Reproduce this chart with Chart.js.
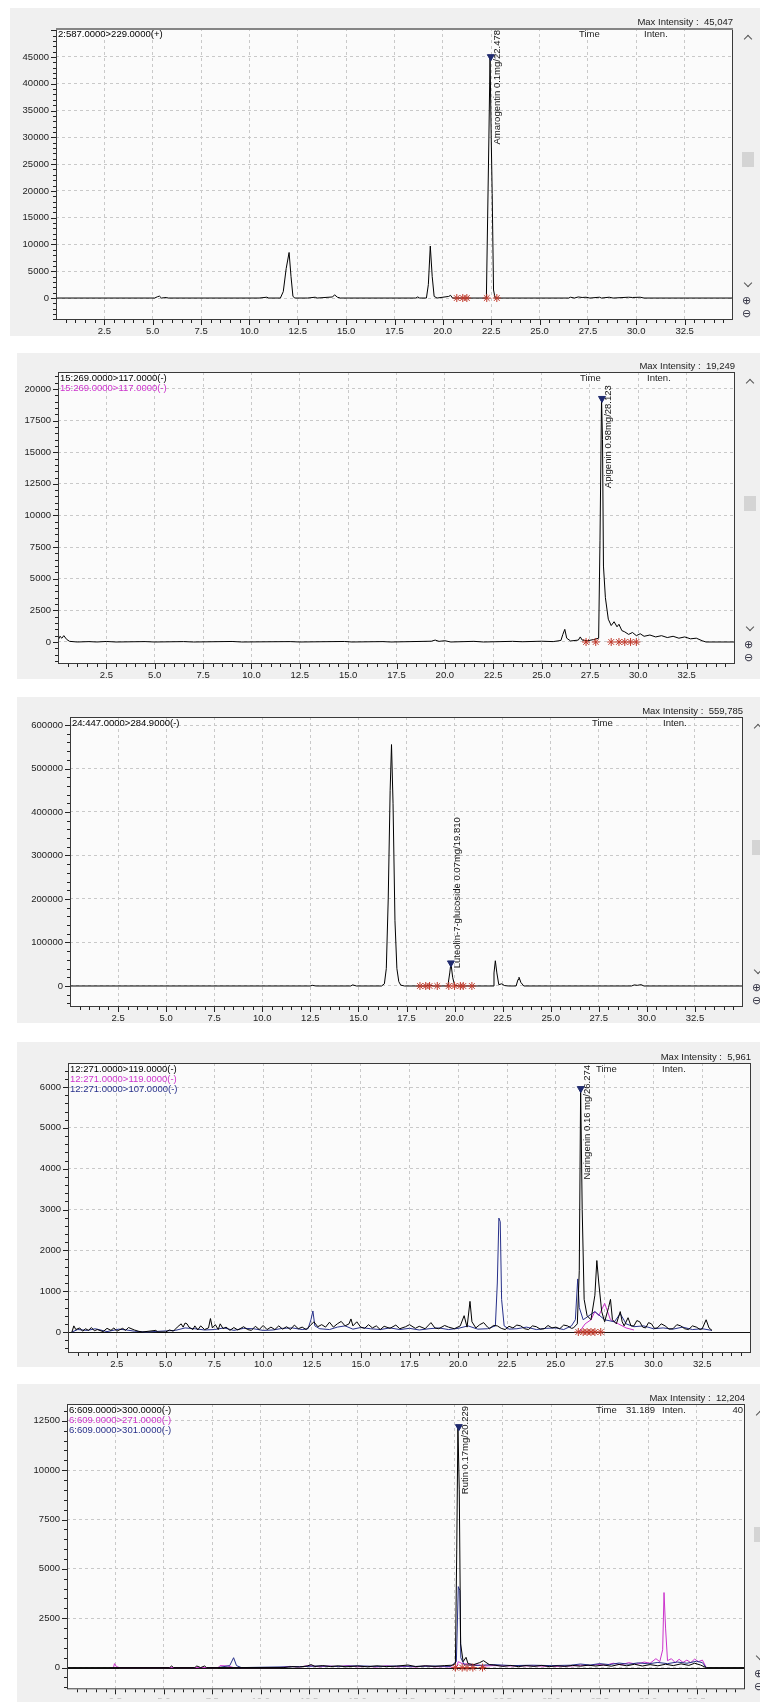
<!DOCTYPE html>
<html>
<head>
<meta charset="utf-8">
<script src="https://cdn.jsdelivr.net/npm/chart.js@4.4.1/dist/chart.umd.min.js"></script>
<style>
  body { margin: 0; background: #fff; width: 760px; height: 1702px; position: relative; overflow: hidden;
         font-family: "Liberation Sans", Arial, sans-serif; }
  .panel { position: absolute; background: #f0f0f0; }
  canvas { position: absolute; left: 0; }
  .t { position: absolute; font-size: 9.5px; line-height: 10px; white-space: pre; color: #111; }
  .chev { position: absolute; width: 5px; height: 5px; border-left: 1.3px solid #555; border-top: 1.3px solid #555; }
  .thumb { position: absolute; width: 12px; height: 15px; background: #d4d4d4; }
  .zoomi { position: absolute; font-size: 11px; line-height: 12px; color: #334; }
</style>
</head>
<body>
<script>
// time axis, shared by every panel
const xTicks = [2.5, 5, 7.5, 10, 12.5, 15, 17.5, 20, 22.5, 25, 27.5, 30, 32.5];

// panel 1: 2:587.0000>229.0000(+)
const p1YTicks = [0, 5000, 10000, 15000, 20000, 25000, 30000, 35000, 40000, 45000];
const p1Legend = ["2:587.0000>229.0000(+)"];
const p1Black = [
  [0, 0], [5.1, 0], [5.25, 250], [5.35, 350], [5.45, 0], [5.7, 100], [5.8, 0], [10.5, 0], [10.9, 150], [11.0, 0],
  [11.6, 0], [11.75, 1200], [11.9, 5500], [12.05, 8500], [12.15, 4000], [12.25, 300], [12.35, 0], [13.0, 0],
  [13.4, 150], [13.5, 0], [14.3, 200], [14.4, 600], [14.55, 150], [14.7, 0], [18.6, 0], [18.7, 200], [18.8, 0],
  [19.15, 0], [19.25, 2500], [19.35, 9700], [19.45, 4000], [19.55, 300], [19.7, 0], [20.3, 300], [20.4, 500],
  [20.5, 0], [22.25, 0], [22.38, 30000], [22.44, 45047], [22.5, 30000], [22.55, 19500], [22.62, 1500], [22.7, 0],
  [26.5, 0], [26.6, 150], [26.8, 0], [27.0, 200], [27.2, 100], [27.4, 150], [27.6, 0], [28.1, 150], [28.2, 0],
  [28.6, 150], [28.8, 0], [29.6, 150], [29.8, 100], [30.2, 150], [30.4, 0], [35, 0]
];
const p1Stars = [20.72, 21.03, 21.24, 22.27, 22.79];
const p1Peak = [22.478, 45047];
const p1Label = "Amarogentin 0.1mg/22.478";

// panel 2: 15:269.0000>117.0000(-)
const p2YTicks = [0, 2500, 5000, 7500, 10000, 12500, 15000, 17500, 20000];
const p2Legend = ["15:269.0000>117.0000(-)", "15:269.0000>117.0000(-)"];
const p2Black = [
  [0, 100], [0.1, 450], [0.2, 300], [0.3, 500], [0.45, 200], [0.6, 50], [1.0, 0], [1.6, 30], [2.0, 0], [2.5, 40],
  [3.0, 0], [4.5, 30], [5.0, 0], [6.5, 30], [7.0, 0], [9.0, 40], [9.5, 0], [12.0, 30], [12.5, 0], [14.8, 40],
  [15.2, 0], [16.8, 30], [17.2, 0], [19.3, 60], [19.5, 150], [19.7, 50], [20.0, 100], [20.3, 0], [21.5, 50],
  [22.0, 0], [23.5, 50], [24.0, 20], [25.0, 60], [25.6, 30], [26.0, 120], [26.1, 600], [26.2, 1000], [26.3, 300],
  [26.5, 80], [26.9, 150], [27.0, 400], [27.1, 150], [27.4, 100], [27.7, 200], [27.95, 300], [28.02, 8000],
  [28.1, 19249], [28.15, 16000], [28.2, 6000], [28.3, 3500], [28.45, 1800], [28.6, 1300], [28.75, 1600],
  [28.9, 1200], [29.0, 1400], [29.15, 900], [29.3, 800], [29.5, 600], [29.7, 750], [29.9, 500], [30.1, 650],
  [30.3, 450], [30.6, 550], [30.9, 400], [31.2, 500], [31.5, 350], [31.8, 450], [32.1, 300], [32.4, 400],
  [32.7, 250], [33.0, 300], [33.3, 100], [33.5, 0], [35, 0]
];
const p2Stars = [27.3, 27.8, 28.6, 29.0, 29.3, 29.6, 29.9];
const p2Peak = [28.123, 19249];
const p2Label = "Apigenin 0.98mg/28.123";

// panel 3: 24:447.0000>284.9000(-)
const p3YTicks = [0, 100000, 200000, 300000, 400000, 500000, 600000];
const p3Legend = ["24:447.0000>284.9000(-)"];
const p3Black = [
  [0, 0], [12.5, 0], [12.6, 1500], [12.8, 0], [14.6, 0], [14.7, 2500], [14.9, 0], [16.2, 0], [16.35, 5000],
  [16.45, 40000], [16.55, 200000], [16.65, 450000], [16.72, 555000], [16.8, 420000], [16.9, 150000],
  [17.0, 40000], [17.1, 10000], [17.2, 2000], [17.4, 0], [18.5, 0], [18.7, 2000], [18.9, 0], [19.65, 0],
  [19.75, 30000], [19.81, 53000], [19.9, 20000], [20.0, 2000], [20.2, 0], [22.0, 0], [22.05, 30000],
  [22.12, 58000], [22.2, 30000], [22.3, 3000], [22.45, 5000], [22.6, 1000], [22.8, 0], [23.2, 0], [23.3, 15000],
  [23.35, 20000], [23.45, 8000], [23.6, 0], [29.2, 0], [29.35, 2500], [29.5, 1500], [29.7, 3000], [29.85, 0], [35, 0]
];
const p3Stars = [18.2, 18.5, 18.7, 19.1, 19.7, 20.0, 20.3, 20.45, 20.9];
const p3Peak = [19.81, 53000];
const p3Label = "Luteolin-7-glucoside 0.07mg/19.810";

// panel 4: 12:271.0000>119 / >119 / >107
const p4YTicks = [0, 1000, 2000, 3000, 4000, 5000, 6000];
const p4Legend = ["12:271.0000>119.0000(-)", "12:271.0000>119.0000(-)", "12:271.0000>107.0000(-)"];
const p4Black = [
  [0.2, 0], [0.3, 150], [0.4, 60], [0.6, 100], [0.75, 20], [0.9, 80], [1.05, 40], [1.2, 110], [1.35, 30],
  [1.5, 60], [1.8, 10], [2.0, 90], [2.2, 40], [2.35, 100], [2.5, 20], [2.8, 90], [2.95, 40], [3.1, 110],
  [3.4, 50], [3.6, 20], [3.8, 0], [4.5, 40], [4.6, 0], [5.0, 0], [5.2, 50], [5.4, 20], [5.6, 120], [5.8, 200],
  [5.9, 120], [6.0, 220], [6.1, 200], [6.2, 120], [6.4, 60], [6.5, 150], [6.65, 50], [6.8, 150], [7.0, 60],
  [7.2, 100], [7.3, 330], [7.4, 100], [7.55, 180], [7.7, 60], [7.8, 200], [7.95, 80], [8.1, 120], [8.3, 40],
  [8.5, 110], [8.7, 50], [9.0, 130], [9.2, 60], [9.4, 40], [9.6, 140], [9.8, 60], [10.0, 160], [10.2, 60],
  [10.4, 120], [10.6, 60], [10.8, 150], [11.0, 70], [11.2, 130], [11.4, 60], [11.6, 170], [11.8, 80], [12.0, 120],
  [12.2, 60], [12.4, 150], [12.6, 250], [12.8, 130], [13.0, 180], [13.2, 120], [13.4, 240], [13.6, 120],
  [13.8, 200], [14.0, 260], [14.2, 150], [14.4, 200], [14.5, 320], [14.6, 150], [14.8, 250], [15.0, 120],
  [15.2, 90], [15.4, 180], [15.6, 100], [15.8, 150], [16.0, 60], [16.2, 140], [16.5, 90], [16.8, 170], [17.0, 80],
  [17.3, 130], [17.5, 180], [17.8, 90], [18.0, 140], [18.3, 80], [18.6, 230], [18.8, 100], [19.0, 80], [19.3, 160],
  [19.5, 120], [19.8, 80], [20.1, 150], [20.3, 400], [20.45, 120], [20.6, 750], [20.7, 250], [20.9, 100],
  [21.1, 180], [21.3, 230], [21.5, 120], [21.6, 80], [21.8, 160], [22.0, 150], [22.2, 90], [22.4, 60],
  [22.6, 140], [22.8, 100], [23.0, 170], [23.2, 150], [23.4, 80], [23.6, 60], [23.8, 150], [24.0, 130],
  [24.2, 70], [24.4, 80], [24.6, 160], [24.8, 100], [25.0, 120], [25.2, 80], [25.4, 170], [25.6, 150],
  [25.8, 90], [25.9, 100], [26.1, 200], [26.2, 1500], [26.27, 5961], [26.35, 3000], [26.45, 800], [26.6, 400],
  [26.8, 300], [27.0, 900], [27.1, 1750], [27.2, 1200], [27.35, 500], [27.5, 250], [27.7, 600], [27.8, 800],
  [27.9, 300], [28.1, 200], [28.3, 500], [28.4, 250], [28.5, 150], [28.7, 350], [28.85, 150], [29.0, 150],
  [29.15, 280], [29.3, 250], [29.45, 120], [29.6, 100], [29.75, 230], [29.9, 200], [30.05, 90], [30.2, 100],
  [30.4, 200], [30.6, 150], [30.8, 70], [31.0, 80], [31.2, 180], [31.4, 150], [31.6, 80], [31.8, 60],
  [32.0, 150], [32.2, 120], [32.4, 60], [32.5, 80], [32.7, 300], [32.85, 100], [33.0, 40]
];
const p4Magenta = [
  [26.2, 0], [26.5, 200], [26.8, 300], [27.0, 500], [27.2, 400], [27.5, 700], [27.8, 300], [28.2, 200],
  [28.6, 100], [29.0, 50]
];
const p4Navy = [
  [0.2, 0], [0.5, 60], [1.0, 40], [1.4, 80], [2.0, 10], [2.6, 70], [3.0, 50], [3.4, 20], [4.0, 0], [5.5, 40],
  [6.0, 100], [6.5, 80], [7.0, 50], [7.5, 60], [8.0, 100], [8.5, 40], [9.0, 90], [9.5, 80], [10.0, 40],
  [10.5, 50], [11.0, 90], [11.5, 100], [12.0, 60], [12.3, 80], [12.45, 300], [12.55, 515], [12.65, 150],
  [12.9, 80], [13.4, 60], [13.8, 120], [14.2, 150], [14.6, 70], [15.0, 110], [15.5, 80], [16.0, 60], [16.5, 100],
  [17.0, 60], [17.5, 90], [18.0, 50], [18.5, 80], [19.0, 100], [19.5, 60], [20.0, 90], [20.5, 150], [21.0, 70],
  [21.5, 80], [21.9, 150], [22.0, 1200], [22.08, 2790], [22.15, 2700], [22.22, 800], [22.35, 150], [22.6, 70],
  [23.0, 80], [23.5, 120], [24.0, 60], [24.5, 90], [25.0, 100], [25.4, 60], [25.8, 150], [26.0, 300],
  [26.12, 1300], [26.2, 600], [26.4, 300], [27.0, 500], [27.5, 300], [28.0, 250], [28.3, 450], [28.6, 200],
  [29.0, 130], [29.5, 150], [30.0, 80], [30.5, 100], [31.0, 70], [31.5, 120], [32.0, 60], [32.5, 80], [33.0, 40]
];
const p4Stars = [26.15, 26.4, 26.6, 26.8, 27.0, 27.3];
const p4Peak = [26.274, 5961];
const p4Label = "Naringenin 0.16 mg/26.274";

// panel 5: 6:609.0000>300 / >271 / >301
const p5YTicks = [0, 2500, 5000, 7500, 10000, 12500];
const p5Legend = ["6:609.0000>300.0000(-)", "6:609.0000>271.0000(-)", "6:609.0000>301.0000(-)"];
const p5Black = [
  [0, 0], [5.3, 0], [5.4, 80], [5.5, 0], [6.6, 0], [6.7, 80], [6.9, 0], [7.1, 80], [7.2, 0], [11.2, 0],
  [11.6, 50], [12.0, 30], [12.4, 80], [12.6, 150], [12.8, 60], [13.2, 100], [13.6, 50], [14.0, 90], [14.4, 40],
  [15.0, 80], [15.5, 40], [16.0, 90], [16.5, 50], [17.0, 70], [17.6, 130], [18.0, 50], [18.5, 90], [19.0, 60],
  [19.5, 100], [19.9, 120], [20.05, 200], [20.12, 6000], [20.18, 12204], [20.25, 9000], [20.32, 1200],
  [20.45, 300], [20.6, 520], [20.7, 200], [21.0, 150], [21.3, 250], [21.5, 350], [21.8, 150], [22.1, 120],
  [22.5, 60], [22.9, 110], [23.3, 50], [23.7, 100], [24.1, 60], [24.5, 110], [24.9, 50], [25.3, 90], [25.7, 60],
  [26.1, 110], [26.5, 70], [26.9, 120], [27.3, 80], [27.7, 130], [28.1, 70], [28.5, 160], [28.9, 90],
  [29.3, 170], [29.7, 80], [30.1, 150], [30.5, 90], [30.9, 170], [31.3, 100], [31.7, 190], [32.1, 110],
  [32.4, 220], [32.7, 130], [33.0, 0], [35, 0]
];
const p5Magenta = [
  [2.4, 0], [2.45, 200], [2.55, 50], [2.7, 0], [7.8, 0], [7.9, 100], [8.3, 80], [8.6, 0], [11.0, 0], [11.5, 60],
  [12.0, 30], [12.5, 100], [13.0, 40], [13.5, 80], [14.0, 50], [14.5, 100], [15.0, 40], [15.5, 60], [16.0, 30],
  [16.5, 90], [17.0, 40], [17.5, 60], [18.0, 30], [18.5, 80], [19.0, 40], [19.5, 50], [20.1, 0], [20.2, 300],
  [20.4, 200], [21.0, 150], [21.5, 80], [22.0, 100], [23.0, 80], [24.0, 90], [25.0, 60], [26.0, 80], [26.5, 120],
  [27.0, 100], [27.4, 160], [27.8, 120], [28.2, 220], [28.6, 140], [29.0, 250], [29.4, 170], [29.8, 280],
  [30.1, 220], [30.4, 450], [30.6, 300], [30.75, 900], [30.82, 3800], [30.9, 2000], [31.0, 350], [31.2, 450],
  [31.4, 250], [31.6, 420], [31.8, 260], [32.0, 380], [32.2, 250], [32.4, 430], [32.6, 300], [32.8, 380],
  [32.95, 100], [33.0, 0]
];
const p5Navy = [
  [7.8, 0], [8.4, 100], [8.6, 500], [8.75, 100], [9.0, 0], [12.0, 50], [13.0, 80], [14.0, 60], [15.0, 90],
  [16.0, 60], [17.0, 80], [18.0, 60], [19.0, 80], [19.8, 60], [20.1, 300], [20.2, 4100], [20.28, 3900],
  [20.33, 500], [20.5, 150], [21.0, 100], [22.0, 150], [23.0, 100], [24.0, 120], [25.0, 100], [26.0, 120],
  [26.5, 180], [27.0, 130], [27.5, 200], [28.0, 150], [28.5, 230], [29.0, 170], [29.5, 240], [30.0, 190],
  [30.5, 260], [31.0, 200], [31.5, 280], [32.0, 220], [32.5, 320], [32.8, 250], [33.0, 0]
];
const p5Stars = [20.05, 20.4, 20.65, 20.95, 21.45];
const p5Peak = [20.229, 12204];
const p5Label = "Rutin 0.17mg/20.229";

const BLACK = "#000000", MAGENTA = "#cc33cc", NAVY = "#27308a", RED = "#c0392b";

Chart.defaults.font.family = '"Liberation Sans", Arial, sans-serif';
Chart.defaults.font.size = 9.5;
Chart.defaults.color = "#222";

// plot background, frame, tick marks, zero line and the rotated peak label
const chromFrame = {
  id: "chromFrame",
  beforeDraw(chart) {
    const { ctx, chartArea: a } = chart;
    ctx.save();
    ctx.fillStyle = "#fbfbfb";
    ctx.fillRect(a.left, a.top, a.right - a.left, a.bottom - a.top);
    ctx.restore();
  },
  beforeDatasetsDraw(chart, args, opts) {
    if (!opts.zeroLine) return;
    const { ctx, chartArea: a, scales: { y } } = chart;
    const py = Math.round(y.getPixelForValue(0)) + 0.5;
    ctx.save();
    ctx.strokeStyle = "#111";
    ctx.lineWidth = 1;
    ctx.beginPath();
    ctx.moveTo(a.left, py);
    ctx.lineTo(a.right, py);
    ctx.stroke();
    ctx.restore();
  },
  afterDraw(chart, args, opts) {
    const { ctx, chartArea: a, scales: { x, y } } = chart;
    ctx.save();
    ctx.strokeStyle = "#222";
    ctx.lineWidth = 1;
    ctx.beginPath();
    for (let v = 0.5; v < x.max; v += 0.5) {
      const major = Math.abs(v / 2.5 - Math.round(v / 2.5)) < 1e-6;
      const px = Math.round(x.getPixelForValue(v)) + 0.5;
      ctx.moveTo(px, a.bottom);
      ctx.lineTo(px, a.bottom + (major ? 5 : 3));
    }
    for (let v = Math.ceil(y.min / opts.minor) * opts.minor; v <= y.max; v += opts.minor) {
      const major = v % opts.major === 0;
      const py = Math.round(y.getPixelForValue(v)) + 0.5;
      ctx.moveTo(a.left, py);
      ctx.lineTo(a.left - (major ? 5 : 3), py);
    }
    ctx.stroke();
    ctx.strokeStyle = "#3a3a3a";
    ctx.strokeRect(a.left + 0.5, a.top + 0.5, a.right - a.left - 1, a.bottom - a.top - 1);
    if (opts.activeTop) {
      // the selected panel has a heavier grey top edge
      ctx.strokeStyle = "#858585";
      ctx.lineWidth = 2;
      ctx.beginPath();
      ctx.moveTo(a.left, a.top + 1);
      ctx.lineTo(a.right, a.top + 1);
      ctx.stroke();
    }

    const lx = x.getPixelForValue(opts.labelAt) + 2;
    const ly = Math.max(a.top + 2, y.getPixelForValue(opts.labelTop));
    ctx.translate(lx, ly);
    ctx.rotate(-Math.PI / 2);
    ctx.font = '9.5px "Liberation Sans", Arial, sans-serif';
    ctx.fillStyle = "#111";
    ctx.textAlign = "right";
    ctx.textBaseline = "top";
    ctx.fillText(opts.label, 0, 0);
    ctx.restore();
  }
};

function trace(pairs, color) {
  return {
    data: pairs.map(([t, v]) => ({ x: t, y: v })),
    borderColor: color, borderWidth: 1, pointRadius: 0, showLine: true, tension: 0, fill: false
  };
}

function addText(x, y, str, color, right) {
  const d = document.createElement("div");
  d.className = "t";
  d.textContent = str;
  d.style.top = y + "px";
  if (right) d.style.right = (760 - x) + "px"; else d.style.left = x + "px";
  d.style.color = color || "#111";
  document.body.appendChild(d);
}

function addBox(cls, x, y, txt) {
  const d = document.createElement("div");
  d.className = cls;
  d.style.left = x + "px";
  d.style.top = y + "px";
  if (txt) d.textContent = txt;
  document.body.appendChild(d);
  return d;
}

function makePanel(p) {
  const bg = addBox("panel", p.bgLeft, p.top);
  bg.style.width = (760 - p.bgLeft) + "px";
  bg.style.height = (p.bottom - p.top) + "px";

  const canvas = document.createElement("canvas");
  canvas.width = 760;
  canvas.height = p.bottom - p.top;
  canvas.style.top = p.top + "px";
  document.body.appendChild(canvas);

  const datasets = [
    { data: [{ x: p.peak[0], y: p.peak[1] }], showLine: false, pointStyle: "triangle", pointRotation: 180,
      pointRadius: 4, backgroundColor: "#1f2a6e", borderColor: "#1f2a6e", borderWidth: 1 },
    { data: p.stars.map(t => ({ x: t, y: 0 })), showLine: false, pointStyle: "star", pointRadius: 4,
      borderColor: RED, borderWidth: 1 },
    ...p.traces.map(([pairs, color]) => trace(pairs, color))
  ];

  new Chart(canvas, {
    type: "scatter",
    data: { datasets },
    options: {
      responsive: false,
      animation: false,
      events: [],
      layout: { padding: { top: p.plot.t - p.top, right: 760 - p.plot.r, left: 0, bottom: 0 } },
      scales: {
        x: {
          type: "linear", min: 0, max: 35,
          afterBuildTicks: s => { s.ticks = xTicks.map(v => ({ value: v })); },
          afterFit: s => { s.height = p.bottom - p.plot.b; },
          ticks: { callback: v => v.toFixed(1), padding: 6, maxRotation: 0, autoSkip: false, color: "#222" },
          grid: { color: "#c9c9c9", drawTicks: false, lineWidth: 1 },
          border: { display: false, dash: [3, 3] }
        },
        y: {
          type: "linear", min: p.yMin, max: p.yMax,
          afterBuildTicks: s => { s.ticks = p.yTicks.map(v => ({ value: v })); },
          afterFit: s => { s.width = p.plot.l; },
          ticks: { callback: v => String(v), padding: 7, autoSkip: false, color: "#222" },
          grid: { color: "#c9c9c9", drawTicks: false, lineWidth: 1 },
          border: { display: false, dash: [3, 3] }
        }
      },
      plugins: {
        legend: { display: false },
        tooltip: { enabled: false },
        chromFrame: { minor: p.yMinor, major: p.yMajor, label: p.label, labelAt: p.peak[0],
                      labelTop: p.labelTop, zeroLine: !!p.zeroLine, activeTop: !!p.activeTop }
      }
    },
    plugins: [chromFrame]
  });

  // legend lines, max intensity and the peak-table header
  p.legend.forEach((s, i) => addText(p.plot.l + 2, p.plot.t + 1 + i * 10, s, p.legendColors[i]));
  addText(p.plot.r, p.plot.t - 11, "Max Intensity :  " + p.maxText, "#222", true);
  p.header.forEach(([x, s, right]) => addText(x, p.plot.t + 1, s, "#222", right));

  // scroll bar at the right
  const sx = p.plot.r + 12;
  addBox("chev", sx, p.plot.t + 8).style.transform = "rotate(45deg)";
  addBox("thumb", sx - 3, (p.plot.t + p.plot.b) / 2 - 22);
  addBox("chev", sx, p.plot.b - 40).style.transform = "rotate(225deg)";
  addBox("zoomi", sx - 3, p.plot.b - 26, "\u2295");
  addBox("zoomi", sx - 3, p.plot.b - 13, "\u2296");
}

makePanel({
  bgLeft: 10, top: 8, bottom: 336, plot: { l: 56, t: 28, r: 733, b: 320 },
  yMin: -4100, yMax: 50400, yTicks: p1YTicks, yMinor: 1000, yMajor: 5000,
  traces: [[p1Black, BLACK]], stars: p1Stars, peak: p1Peak, label: p1Label, labelTop: 50400, activeTop: true,
  legend: p1Legend, legendColors: [BLACK], maxText: "45,047",
  header: [[579, "Time"], [644, "Inten."]]
});
makePanel({
  bgLeft: 17, top: 353, bottom: 679, plot: { l: 58, t: 372, r: 735, b: 664 },
  yMin: -1740, yMax: 21340, yTicks: p2YTicks, yMinor: 500, yMajor: 2500,
  traces: [[p2Black, BLACK]], stars: p2Stars, peak: p2Peak, label: p2Label, labelTop: 20300,
  legend: p2Legend, legendColors: [BLACK, MAGENTA], maxText: "19,249",
  header: [[580, "Time"], [647, "Inten."]]
});
makePanel({
  bgLeft: 17, top: 697, bottom: 1023, plot: { l: 70, t: 717, r: 743, b: 1007 },
  yMin: -48300, yMax: 618400, yTicks: p3YTicks, yMinor: 20000, yMajor: 100000,
  traces: [[p3Black, BLACK]], stars: p3Stars, peak: p3Peak, label: p3Label, labelTop: 388000,
  legend: p3Legend, legendColors: [BLACK], maxText: "559,785",
  header: [[592, "Time"], [663, "Inten."]]
});
makePanel({
  bgLeft: 17, top: 1042, bottom: 1367, plot: { l: 68, t: 1063, r: 751, b: 1353 },
  yMin: -514, yMax: 6588, yTicks: p4YTicks, yMinor: 200, yMajor: 1000,
  traces: [[p4Black, BLACK], [p4Navy, NAVY], [p4Magenta, MAGENTA]], stars: p4Stars, peak: p4Peak,
  label: p4Label, labelTop: 6588, zeroLine: true,
  legend: p4Legend, legendColors: [BLACK, MAGENTA, NAVY], maxText: "5,961",
  header: [[596, "Time"], [662, "Inten."]]
});
makePanel({
  bgLeft: 17, top: 1384, bottom: 1702, plot: { l: 67, t: 1404, r: 745, b: 1693 },
  yMin: -1100, yMax: 13350, yTicks: p5YTicks, yMinor: 500, yMajor: 2500,
  traces: [[p5Black, BLACK], [p5Navy, NAVY], [p5Magenta, MAGENTA]], stars: p5Stars, peak: p5Peak,
  label: p5Label, labelTop: 13350, zeroLine: true,
  legend: p5Legend, legendColors: [BLACK, MAGENTA, NAVY], maxText: "12,204",
  header: [[596, "Time"], [626, "31.189"], [662, "Inten."], [743, "40", true]]
});
</script>
</body>
</html>
